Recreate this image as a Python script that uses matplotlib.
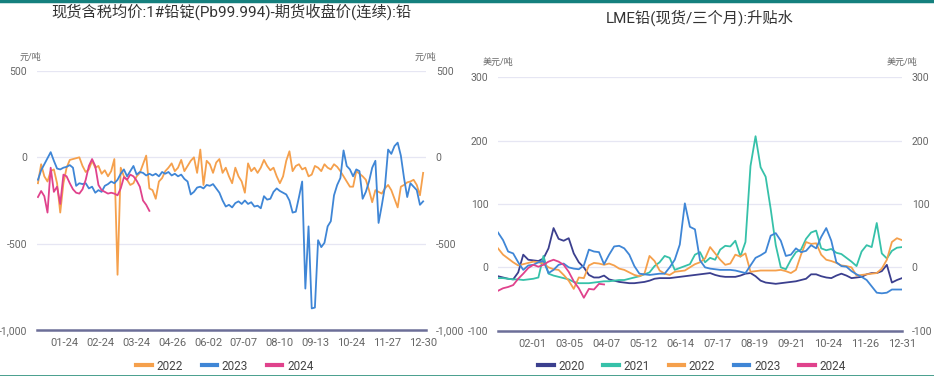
import matplotlib
matplotlib.use('Agg')
import matplotlib.pyplot as plt
from matplotlib.lines import Line2D
import numpy as np

plt.rcParams['font.family'] = ['Roboto', 'Noto Sans CJK SC', 'DejaVu Sans']

# ---------------- data: left chart (spot - futures, CNY/t), sampled every 2 trading days
left_title = '现货含税均价:1#铅锭(Pb99.994)-期货收盘价(连续):铅'
left_unit = '元/吨'
left_xticklabels = ['01-24', '02-24', '03-24', '04-26', '06-02', '07-07',
                    '08-10', '09-13', '10-24', '11-27', '12-30']
left_yticks = [-1000, -500, 0, 500]
left_yticklabels = ['-1,000', '-500', '0', '500']

left_2022 = [-150, -40, -110, -140, -80, -70, -150, -320, -150, -60,
             -15, -10, -5, 0, -50, -85, -70, -20, -60, -50,
             -95, -75, -110, -80, -10, -680, -60, -110, -130, -160,
             -150, -110, -90, -40, 10, -180, -190, -240, -140, -120,
             -80, -60, -35, -80, -60, -15, -80, -50, -20, 0,
             -90, 45, -160, -20, -40, -90, -30, -10, -90, -60,
             -110, -150, -60, -110, -140, -205, -35, -80, -60, -90,
             -60, -15, -50, -75, -60, -110, -150, -110, -20, 35,
             -80, -50, -40, -70, -60, -110, -100, -50, -60, -80,
             -40, -60, -70, -40, -55, -80, -110, -140, -170, -170,
             -80, -95, -110, -130, -190, -260, -190, -200, -210, -180,
             -160, -190, -240, -290, -170, -160, -145, -140, -130, -160,
             -220, -90]
left_2023 = [-130, -75, -40, -5, 30, -20, -65, -70, -60, -55,
             -45, -60, -165, -150, -155, -150, -180, -170, -205, -190,
             -200, -165, -155, -140, -150, -130, -95, -70, -110, -80,
             -50, -100, -85, -90, -105, -95, -105, -95, -110, -85,
             -95, -85, -105, -95, -110, -100, -125, -140, -215, -200,
             -175, -170, -180, -160, -165, -155, -180, -205, -250, -285,
             -275, -290, -265, -255, -270, -250, -270, -260, -285, -280,
             -295, -225, -245, -240, -200, -180, -195, -205, -215, -250,
             -320, -315, -230, -140, -760, -400, -875, -870, -480, -520,
             -495, -400, -370, -220, -160, -120, 40, -50, -70, -110,
             -70, -80, -240, -200, -140, -60, -20, -380, -280, -170,
             45, 20, 65, 85, 10, -120, -230, -150, -170, -190,
             -275, -255]
left_2024 = [-230, -195, -225, -320, -60, -200, -170, -270, -100, -110,
             -150, -185, -205, -210, -185, -130, -50, -10, -50, -160,
             -190, -200, -210, -205, -210, -220, -180, -115, -130, -100,
             -110, -135, -170, -250, -275, -310]

# ---------------- data: right chart (LME lead cash-3M, USD/t), sampled every ~3 trading days
right_title = 'LME铅(现货/三个月):升贴水'
right_unit = '美元/吨'
right_xticklabels = ['02-01', '03-05', '04-07', '05-12', '06-14', '07-17',
                     '08-19', '09-21', '10-24', '11-26', '12-31']
right_yticks = [-100, 0, 100, 200, 300]
right_yticklabels = ['-100', '0', '100', '200', '300']

r_2020 = [-14, -16, -18, -19, -8, 20, 12, 11, 10, 14,
          30, 62, 45, 42, 46, 22, 8, 0, -12, -16,
          -16, -13, -19, -21, -23, -24, -25, -25, -24, -23,
          -21, -18, -17, -17, -17, -16, -15, -14, -13, -12,
          -11, -10, -9, -12, -14, -15, -15, -15, -13, -10,
          -9, -14, -21, -24, -25, -26, -25, -24, -23, -22,
          -20, -18, -11, -11, -14, -16, -17, -13, -10, -13,
          -17, -16, -15, -11, -9, -9, -6, 4, -24, -20,
          -17]
r_2021 = [-17, -17, -18, -19, -19, -20, -19, -18, -16, 18,
          -10, -13, -15, -17, -19, -23, -25, -25, -25, -24,
          -23, -22, -22, -21, -20, -20, -18, -16, -14, -11,
          -8, 2, 8, 18, 15, -4, -1, 2, 5, 20,
          24, 8, 15, 12, 28, 34, 33, 42, 17, 40,
          160, 207, 158, 143, 92, 35, 0, -3, 12, 24,
          28, 45, 55, 58, 30, 27, 29, 23, 21, 15,
          9, 2, 25, 35, 32, 70, 22, 14, 26, 31,
          32]
r_2022 = [30, 20, 14, 8, 3, 5, 7, 9, 8, 6,
          0, -3, -4, -12, -21, -34, -16, -17, 3, 7,
          6, 4, 6, 3, -2, -4, -8, -12, -14, -10,
          18, 10, -5, -10, -12, -7, -6, -5, 0, 5,
          8, 14, 32, 22, 12, 4, 6, 20, 17, 22,
          -7, -6, -5, -5, -5, -5, -4, -6, -9, -4,
          20, 40, 37, 38, 20, 12, 10, 7, 3, 2,
          0, -13, -12, -11, -10, -9, -2, 12, 40, 46,
          43]
r_2023 = [55, 43, 25, 22, 8, -4, 3, 4, 8, 10,
          -9, -4, 4, 6, 0, -2, -3, 3, 28, 25,
          24, 5, 20, 33, 34, 30, 20, 2, -10, -11,
          -12, -11, -10, -10, 0, 12, 36, 101, 64, 60,
          11, 0, -2, -3, -4, -4, -4, -5, -7, -9,
          3, 15, 19, 24, 50, 54, 42, 18, 20, 30,
          24, 26, 35, 30, 48, 62, 42, 8, 2, 1,
          -6, -11, -15, -20, -30, -40, -41, -40, -35, -35,
          -35]
r_2024 = [-37, -33, -31, -28, -18, -10, -1, 4, 1, 4,
          9, 12, 9, 4, -7, -22, -33, -48, -34, -35,
          -26, -27]

# ---------------- styling
C2020 = '#3b3f8e'
C2021 = '#36c1a9'
C2022 = '#f5a04c'
C2023 = '#3f86d6'
C2024 = '#e0428c'
GRID = '#e6e6f3'
AXLINE = '#6c6e98'
TXT = '#666666'
W, H = 934, 376

fig = plt.figure(figsize=(W / 100, H / 100), dpi=100)


def fx(px):
    return px / W


def fy(py):
    return 1 - py / H


def style_axes(ax, yticks, ylabels, ymin, xticks, xlabels):
    for s in ax.spines.values():
        s.set_visible(False)
    ax.set_yticks(yticks)
    ax.set_yticklabels(ylabels)
    ax.tick_params(axis='y', left=False, right=False, labelleft=True, labelright=True,
                   labelsize=7.5, labelcolor=TXT, pad=3.5)
    ax.set_xticks(xticks)
    ax.set_xticklabels(xlabels)
    ax.tick_params(axis='x', length=0, labelsize=8, labelcolor=TXT, pad=6)
    for y in yticks[1:]:
        ax.axhline(y, color=GRID, lw=0.9, zorder=0)
    ax.axhline(ymin, color=AXLINE, lw=1.8, zorder=5, clip_on=False)


# ---- left chart
ax1 = fig.add_axes([fx(37), fy(330), fx(426 - 37), (330 - 71) / H])
for vals, col in [(left_2022, C2022), (left_2023, C2023), (left_2024, C2024)]:
    ax1.plot(np.arange(len(vals)), vals, color=col, lw=1.3)
ax1.set_ylim(-1000, 500)
ax1.set_xlim(-0.3, 121.9)
style_axes(ax1, left_yticks, left_yticklabels, -1000,
           np.linspace(8.4, 121, len(left_xticklabels)), left_xticklabels)

# ---- right chart
ax2 = fig.add_axes([fx(498), fy(330.7), fx(902 - 498), (330.7 - 77.3) / H])
for vals, col in [(r_2020, C2020), (r_2021, C2021), (r_2022, C2022),
                  (r_2023, C2023), (r_2024, C2024)]:
    ax2.plot(np.arange(len(vals)), vals, color=col, lw=1.3)
ax2.set_ylim(-100, 300)
ax2.set_xlim(0, 80)
style_axes(ax2, right_yticks, right_yticklabels, -100,
           np.linspace(6.9, 80, len(right_xticklabels)), right_xticklabels)

# ---- titles and units
fig.text(fx(231), fy(12), left_title, ha='center', va='center', fontsize=11, color='#333333')
fig.text(fx(700), fy(18), right_title, ha='center', va='center', fontsize=11, color='#333333')
fig.text(fx(30), fy(57), left_unit, ha='center', va='center', fontsize=6.5, color=TXT)
fig.text(fx(425), fy(57), left_unit, ha='center', va='center', fontsize=6.5, color=TXT)
fig.text(fx(498), fy(62), right_unit, ha='center', va='center', fontsize=6.5, color=TXT)
fig.text(fx(902), fy(62), right_unit, ha='center', va='center', fontsize=6.5, color=TXT)

# ---- legends
def handles(items):
    return [Line2D([], [], color=c, lw=3) for _, c in items]

litems = [('2022', C2022), ('2023', C2023), ('2024', C2024)]
fig.legend(handles(litems), [n for n, _ in litems], loc='center',
           bbox_to_anchor=(fx(225), fy(366)), ncol=3, frameon=False, fontsize=8.5,
           handlelength=1.3, handletextpad=0.4, columnspacing=1.6, labelcolor='#444444')
ritems = [('2020', C2020), ('2021', C2021), ('2022', C2022), ('2023', C2023), ('2024', C2024)]
fig.legend(handles(ritems), [n for n, _ in ritems], loc='center',
           bbox_to_anchor=(fx(692), fy(366)), ncol=5, frameon=False, fontsize=8.5,
           handlelength=1.3, handletextpad=0.4, columnspacing=1.6, labelcolor='#444444')

# ---- top / bottom border lines
fig.add_artist(Line2D([0, 1], [fy(1), fy(1)], transform=fig.transFigure, color='#15807e', lw=2.5))
fig.add_artist(Line2D([0, 1], [fy(375.5), fy(375.5)], transform=fig.transFigure, color='#2a8f7a', lw=1.2))

fig.savefig('out.png', dpi=100)
